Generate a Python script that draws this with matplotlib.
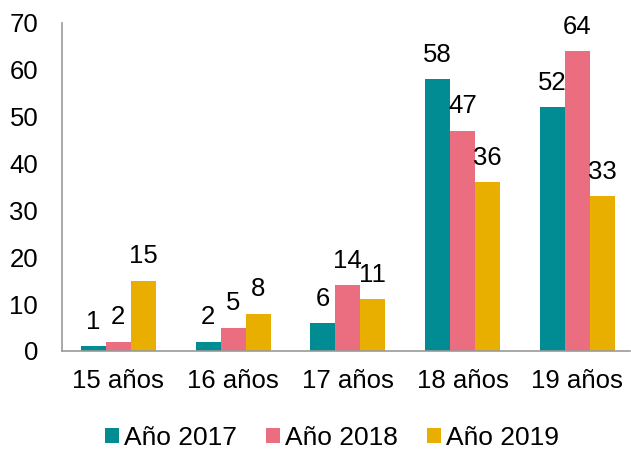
import numpy as np
import matplotlib; matplotlib.use("Agg")
import matplotlib.pyplot as plt

plt.rcParams["font.family"] = ["Liberation Sans", "DejaVu Sans"]

categories = ["15 años", "16 años", "17 años", "18 años", "19 años"]
series = ["Año 2017", "Año 2018", "Año 2019"]
v2017 = [1, 2, 6, 58, 52]
v2018 = [2, 5, 14, 47, 64]
v2019 = [15, 8, 11, 36, 33]
colors = ["#008C92", "#EB6E80", "#E8AE00"]

fig = plt.figure(figsize=(6.31, 4.5), dpi=100)
ax = fig.add_axes([0.098, 0.22, 0.9, 0.729])
x = np.arange(len(categories))
w = 0.218
for i, (vals, name, col) in enumerate(zip((v2017, v2018, v2019), series, colors)):
    pos = x + (i - 1) * w
    bars = ax.bar(pos, vals, width=w, color=col, label=name)
    for b, v in zip(bars, vals):
        ax.annotate(str(v), (b.get_x() + b.get_width() / 2, v), xytext=(0, 12.5),
                    textcoords="offset points", ha="center", va="baseline", fontsize=18.5)

ax.set_xlim(-0.492, 4.457)
ax.set_ylim(0, 70)
ax.set_yticks(range(0, 71, 10))
ax.set_xticks(x)
ax.set_xticklabels(categories)
ax.tick_params(axis="both", length=0, labelsize=18.5, colors="#000000")
ax.tick_params(axis="y", pad=17)
ax.tick_params(axis="x", pad=13)
for s in ("top", "right"):
    ax.spines[s].set_visible(False)
for s in ("left", "bottom"):
    ax.spines[s].set_color("#999999")
    ax.spines[s].set_linewidth(1.2)

fig.legend(loc="center", bbox_to_anchor=(0.526, 0.027), ncol=3, frameon=False,
           fontsize=19, handlelength=0.53, handleheight=0.53, handletextpad=0.19,
           columnspacing=1.1, borderpad=0, borderaxespad=0)

fig.savefig("out.png", dpi=100)
